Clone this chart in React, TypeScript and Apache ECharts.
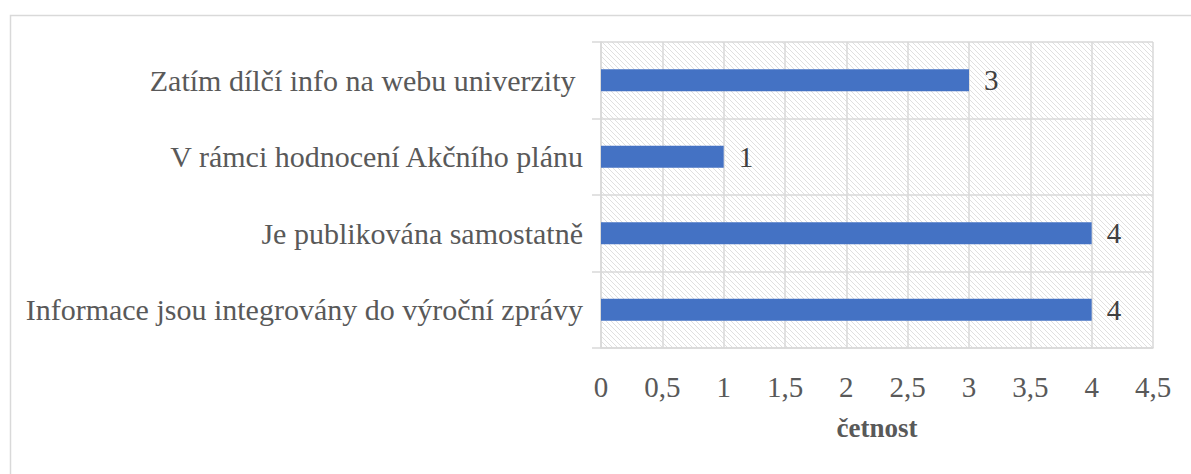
import React, { useEffect, useRef } from "react";
import * as echarts from "echarts";

const categories = [
  "Zatím dílčí info na webu univerzity ",
  "V rámci hodnocení Akčního plánu",
  "Je publikována samostatně",
  "Informace jsou integrovány do výroční zprávy",
];
const values = [3, 1, 4, 4];
const axisName = "četnost";

function makeHatch(): HTMLCanvasElement {
  const s = 5;
  const c = document.createElement("canvas");
  c.width = s;
  c.height = s;
  const ctx = c.getContext("2d")!;
  ctx.fillStyle = "#ffffff";
  ctx.fillRect(0, 0, s, s);
  ctx.strokeStyle = "#dcdcdc";
  ctx.lineWidth = 0.9;
  ctx.beginPath();
  ctx.moveTo(-1, -1);
  ctx.lineTo(s + 1, s + 1);
  ctx.moveTo(-1 - s, -1);
  ctx.lineTo(1, s + 1);
  ctx.moveTo(s - 1, -1);
  ctx.lineTo(2 * s + 1, s + 1);
  ctx.stroke();
  return c;
}

export default function App() {
  const ref = useRef<HTMLDivElement>(null);
  useEffect(() => {
    const chart = echarts.init(ref.current!, undefined, { renderer: "svg" });
    const font = "Liberation Serif";
    chart.setOption({
      animation: false,
      backgroundColor: "#ffffff",
      textStyle: { fontFamily: font },
      graphic: [
        {
          type: "rect",
          left: 8,
          top: 13,
          shape: { width: 1300, height: 600 },
          style: { fill: "none", stroke: "#d9d9d9", lineWidth: 1.5 },
          silent: true,
        },
      ],
      grid: {
        left: 601,
        right: 38,
        top: 42,
        bottom: 126,
        show: true,
        borderWidth: 0,
        backgroundColor: { image: makeHatch(), repeat: "repeat" },
      },
      xAxis: {
        type: "value",
        min: 0,
        max: 4.5,
        interval: 0.5,
        name: axisName,
        nameLocation: "middle",
        nameGap: 66,
        nameTextStyle: {
          fontFamily: font,
          fontWeight: "bold",
          fontSize: 27,
          color: "#595959",
        },
        axisLine: { show: true, lineStyle: { color: "#d9d9d9", width: 1.5 } },
        axisTick: { show: false },
        splitLine: { show: true, lineStyle: { color: "#d9d9d9", width: 1.5 } },
        axisLabel: {
          fontFamily: font,
          fontSize: 29,
          color: "#595959",
          margin: 24,
          formatter: (v: number) => String(v).replace(".", ","),
        },
      },
      yAxis: {
        type: "category",
        data: categories,
        inverse: true,
        axisLine: { show: true, lineStyle: { color: "#d9d9d9", width: 1.5 } },
        axisTick: {
          show: true,
          length: 9,
          lineStyle: { color: "#d9d9d9", width: 1.5 },
        },
        splitLine: { show: true, lineStyle: { color: "#d9d9d9", width: 1.5 } },
        axisLabel: {
          fontFamily: font,
          fontSize: 30,
          color: "#595959",
          margin: 18,
        },
      },
      series: [
        {
          type: "bar",
          data: values,
          barWidth: 22,
          itemStyle: { color: "#4472C4" },
          label: {
            show: true,
            position: "right",
            distance: 15,
            fontFamily: font,
            fontSize: 29,
            color: "#404040",
          },
        },
      ],
    });
    return () => chart.dispose();
  }, []);
  return (
    <div
      ref={ref}
      style={{ position: "absolute", left: 0, top: 0, width: 1191, height: 474 }}
    />
  );
}
